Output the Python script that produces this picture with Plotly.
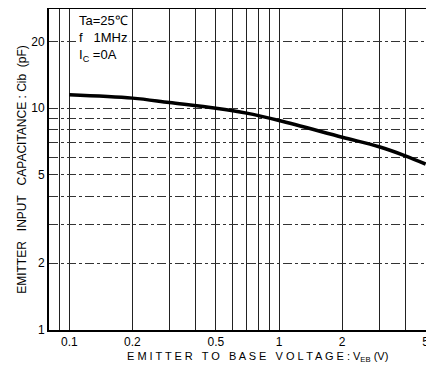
import plotly.graph_objects as go
import math

# Data
v_eb = [0.1, 0.2, 0.3, 0.5, 0.7, 1, 2, 3, 4, 5]
c_ib = [11.5, 11.1, 10.6, 10.0, 9.5, 8.8, 7.4, 6.7, 6.1, 5.6]

x_grid = [0.09, 0.1, 0.2, 0.3, 0.4, 0.5, 0.6, 0.7, 0.8, 0.9, 1, 2, 3, 4, 5]
x_labels = ["", "0.1", "0.2", "", "", "0.5", "", "", "", "", "1", "2", "", "", "5"]
y_grid = [1, 2, 3, 4, 5, 6, 7, 8, 9, 10, 20]
y_labels = ["1", "2", "", "", "5", "", "", "", "", "10", "20"]

font = "Liberation Sans, Arial, sans-serif"

fig = go.Figure()
fig.add_trace(go.Scatter(x=v_eb, y=c_ib, mode="lines",
                         line=dict(color="black", width=3.5, shape="spline"),
                         showlegend=False))

# the page body adds an 8px offset, so the figure is 8px smaller
fig.update_layout(
    width=426, height=358,
    margin=dict(l=41, r=8, t=1, b=36, autoexpand=False),
    paper_bgcolor="white", plot_bgcolor="white",
    font=dict(family=font, color="black", size=12),
    xaxis=dict(type="log", range=[math.log10(0.08), math.log10(5.02)],
               tickvals=x_grid, ticktext=x_labels, ticks="",
               showgrid=True, gridcolor="#222", gridwidth=1,
               showline=True, linecolor="black", linewidth=2, mirror=True,
               zeroline=False, tickfont=dict(size=12), automargin=False),
    yaxis=dict(type="log", range=[0, math.log10(28)],
               tickvals=y_grid, ticktext=y_labels, ticks="",
               showgrid=True, gridcolor="#333", gridwidth=1, griddash="dashdot",
               showline=True, linecolor="black", linewidth=2, mirror=True,
               zeroline=False, tickfont=dict(size=12), automargin=False,
               title=dict(text="EMITTER   INPUT   CAPACITANCE : Cib  (pF)",
                          font=dict(size=12), standoff=2)),
)

fig.add_annotation(
    x=0.552, y=-0.085, xref="paper", yref="paper", xanchor="center", yanchor="middle",
    showarrow=False,
    text="E M I T T E R   T O   B A S E   V O L T A G E : V<sub>EB</sub> (V)",
    font=dict(size=11, family=font),
)

fig.add_annotation(
    x=0.075, y=0.995, xref="paper", yref="paper", xanchor="left", yanchor="top",
    align="left", showarrow=False, bgcolor="white",
    text="Ta=25℃<br>f   1MHz<br>I<sub>C</sub> =0A",
    font=dict(size=13, family=font),
)

fig.write_html("out.html")
